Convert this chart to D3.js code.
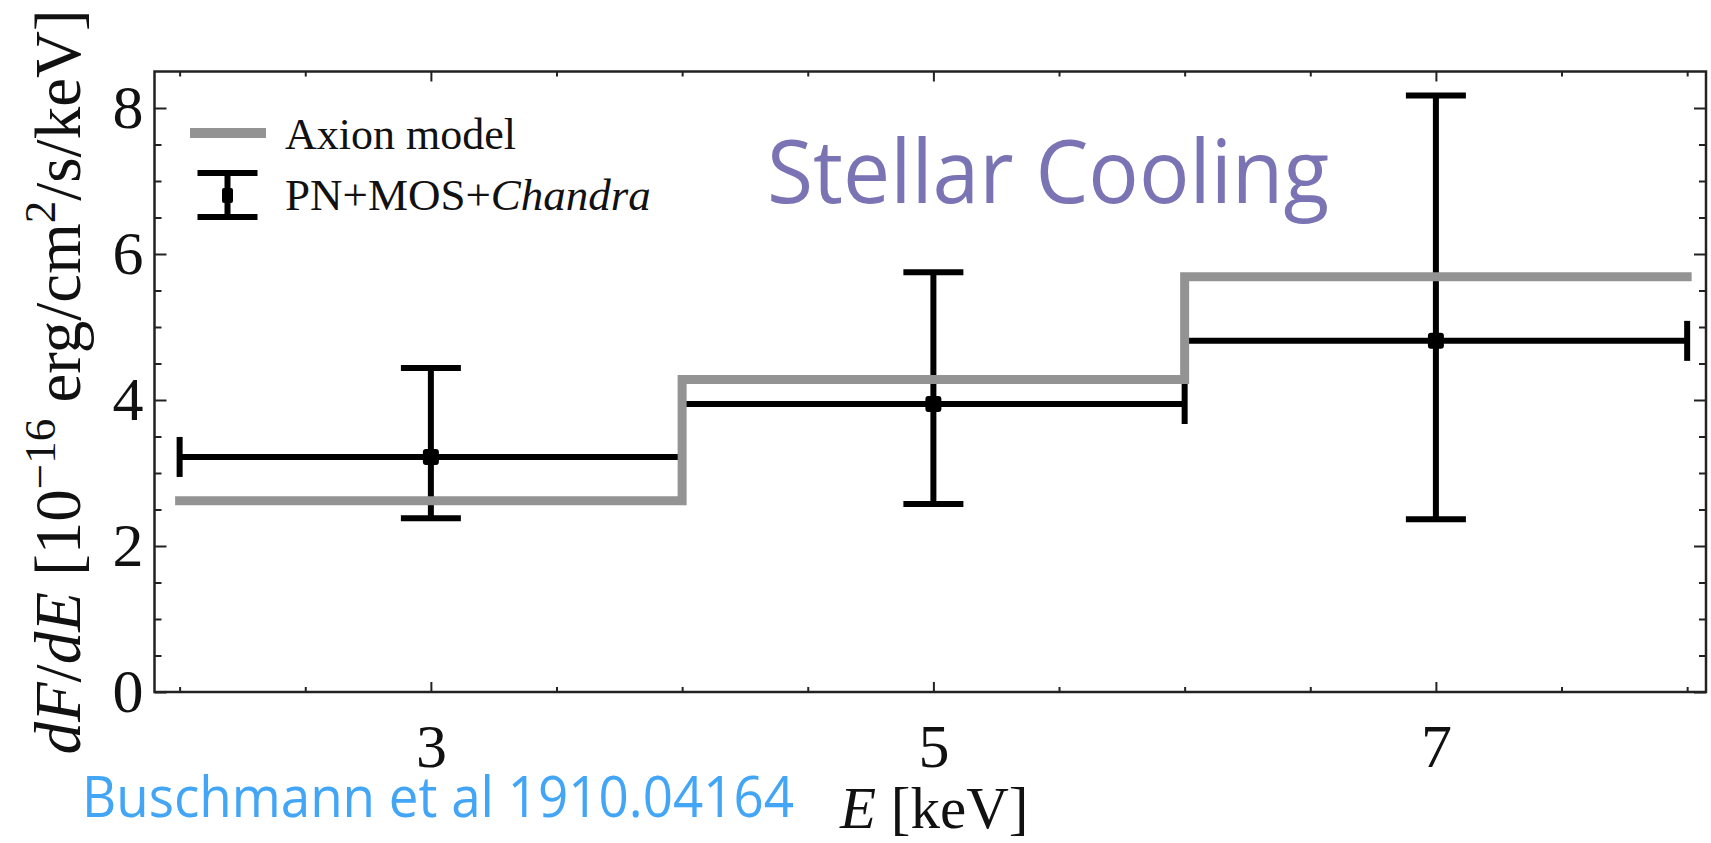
<!DOCTYPE html>
<html>
<head>
<meta charset="utf-8">
<script src="https://cdn.jsdelivr.net/npm/d3@7"></script>
<style>
  body { margin: 0; background: #fff; }
  svg { display: block; }
</style>
</head>
<body>
<svg id="chart" width="1711" height="843"></svg>
<script>
// Energy bins (keV) and measured flux with asymmetric errors
const binLow = [2, 4, 6];
const binHigh = [4, 6, 8];
const binCenter = [3, 5, 7];
const fluxValue = [3.22, 3.945, 4.81];
const fluxLower = [2.38, 2.575, 2.365];
const fluxUpper = [4.44, 5.75, 8.17];
// Axion model prediction, one level per bin
const axionModel = [2.62, 4.28, 5.69];
// Tick values
const xTickMajor = [3, 5, 7];
const xTickMinor = [2, 2.5, 3.5, 4, 4.5, 5.5, 6, 6.5, 7.5, 8];
const yTickMajor = [0, 2, 4, 6, 8];
const yTickMinor = [0.5, 1, 1.5, 2.5, 3, 3.5, 4.5, 5, 5.5, 6.5, 7, 7.5];
const legendModel = "Axion model";
const legendDataPrefix = "PN+MOS+";
const legendDataItalic = "Chandra";

const svg = d3.select("#chart");
const serif = "'Liberation Serif', 'DejaVu Serif', serif";
const sans = "'Open Sans', 'Noto Sans', sans-serif";

const x = d3.scaleLinear().domain([1.9, 8.075]).range([154.5, 1706]);
const y = d3.scaleLinear().domain([0, 8.5]).range([692, 71.5]);

const [x0, x1] = x.range();
const [y0, y1] = y.range();

// ---- axes: inward ticks on all four sides ----
function styleAxis(g) {
  g.select(".domain").remove();
  g.selectAll(".tick line").attr("stroke", "#222").attr("stroke-width", 2);
  g.selectAll(".tick text").attr("fill", "#111").attr("font-family", serif);
}

svg.append("g").attr("transform", `translate(0,${y0})`)
  .call(d3.axisBottom(x).tickValues(xTickMajor).tickSize(-10).tickPadding(31).tickFormat(d3.format("d")))
  .call(styleAxis)
  .selectAll(".tick text").attr("font-size", 62);
svg.append("g").attr("transform", `translate(0,${y0})`)
  .call(d3.axisBottom(x).tickValues(xTickMinor).tickSize(-5).tickFormat(""))
  .call(styleAxis);
svg.append("g").attr("transform", `translate(0,${y1})`)
  .call(d3.axisTop(x).tickValues(xTickMajor).tickSize(-10).tickFormat(""))
  .call(styleAxis);
svg.append("g").attr("transform", `translate(0,${y1})`)
  .call(d3.axisTop(x).tickValues(xTickMinor).tickSize(-5).tickFormat(""))
  .call(styleAxis);

svg.append("g").attr("transform", `translate(${x0},0)`)
  .call(d3.axisLeft(y).tickValues(yTickMajor).tickSize(-12).tickPadding(11).tickFormat(d3.format("d")))
  .call(styleAxis)
  .selectAll(".tick text").attr("font-size", 62);
svg.append("g").attr("transform", `translate(${x0},0)`)
  .call(d3.axisLeft(y).tickValues(yTickMinor).tickSize(-7).tickFormat(""))
  .call(styleAxis);
svg.append("g").attr("transform", `translate(${x1},0)`)
  .call(d3.axisRight(y).tickValues(yTickMajor).tickSize(-12).tickFormat(""))
  .call(styleAxis);
svg.append("g").attr("transform", `translate(${x1},0)`)
  .call(d3.axisRight(y).tickValues(yTickMinor).tickSize(-7).tickFormat(""))
  .call(styleAxis);

// ---- data error bars ----
const bars = svg.append("g").attr("stroke", "#000").attr("stroke-width", 6).attr("fill", "none");
binCenter.forEach((c, i) => {
  const cx = x(c), cy = y(fluxValue[i]);
  const xl = x(binLow[i]), xh = x(binHigh[i]);
  const yl = y(fluxLower[i]), yh = y(fluxUpper[i]);
  bars.append("line").attr("x1", xl).attr("x2", xh).attr("y1", cy).attr("y2", cy);
  bars.append("line").attr("x1", cx).attr("x2", cx).attr("y1", yl).attr("y2", yh);
  // caps
  bars.append("line").attr("x1", cx - 30).attr("x2", cx + 30).attr("y1", yl).attr("y2", yl);
  bars.append("line").attr("x1", cx - 30).attr("x2", cx + 30).attr("y1", yh).attr("y2", yh);
  bars.append("line").attr("x1", xl).attr("x2", xl).attr("y1", cy - 20).attr("y2", cy + 20);
  bars.append("line").attr("x1", xh).attr("x2", xh).attr("y1", cy - 20).attr("y2", cy + 20);
  bars.append("rect").attr("x", cx - 8).attr("y", cy - 8).attr("width", 16).attr("height", 16)
    .attr("rx", 3).attr("fill", "#000").attr("stroke", "none");
});

// ---- axion model step line ----
const stepPoints = binLow.map((lo, i) => [lo, axionModel[i]]);
stepPoints.push([binHigh[binHigh.length - 1], axionModel[axionModel.length - 1]]);
svg.append("path")
  .datum(stepPoints)
  .attr("d", d3.line().x(d => x(d[0])).y(d => y(d[1])).curve(d3.curveStepAfter))
  .attr("fill", "none")
  .attr("stroke", "#939393")
  .attr("stroke-width", 9)
  .attr("stroke-linecap", "square")
  .attr("stroke-linejoin", "miter");

// ---- frame ----
svg.append("rect")
  .attr("x", x0).attr("y", y1).attr("width", x1 - x0).attr("height", y0 - y1)
  .attr("fill", "none").attr("stroke", "#222").attr("stroke-width", 2.5);

// ---- legend ----
const lg = svg.append("g");
lg.append("line").attr("x1", 190).attr("x2", 266).attr("y1", 133).attr("y2", 133)
  .attr("stroke", "#939393").attr("stroke-width", 10);
lg.append("line").attr("x1", 227.5).attr("x2", 227.5).attr("y1", 173).attr("y2", 217)
  .attr("stroke", "#000").attr("stroke-width", 6);
lg.append("line").attr("x1", 197.5).attr("x2", 257.5).attr("y1", 173).attr("y2", 173)
  .attr("stroke", "#000").attr("stroke-width", 6);
lg.append("line").attr("x1", 197.5).attr("x2", 257.5).attr("y1", 217).attr("y2", 217)
  .attr("stroke", "#000").attr("stroke-width", 6);
lg.append("rect").attr("x", 222).attr("y", 188).attr("width", 11).attr("height", 15)
  .attr("fill", "#000").attr("rx", 2);
lg.append("text").attr("x", 285).attr("y", 149)
  .attr("font-family", serif).attr("font-size", 44).attr("fill", "#111")
  .text(legendModel);
const lt = lg.append("text").attr("x", 285).attr("y", 210)
  .attr("font-family", serif).attr("font-size", 45).attr("fill", "#111");
lt.append("tspan").text(legendDataPrefix);
lt.append("tspan").attr("font-style", "italic").text(legendDataItalic);

// ---- axis titles ----
const xt = svg.append("text").attr("x", 840).attr("y", 828)
  .attr("font-family", serif).attr("font-size", 59).attr("fill", "#111");
xt.append("tspan").attr("font-style", "italic").text("E");
xt.append("tspan").text(" [keV]");

const yt = svg.append("text")
  .attr("transform", "translate(80,382) rotate(-90)")
  .attr("text-anchor", "middle")
  .attr("font-family", serif).attr("font-size", 65).attr("fill", "#111");
yt.append("tspan").attr("font-style", "italic").text("dF");
yt.append("tspan").text("/");
yt.append("tspan").attr("font-style", "italic").text("dE");
yt.append("tspan").text(" [10");
yt.append("tspan").attr("font-size", 45).attr("dy", -25).text("\u221216");
yt.append("tspan").attr("dy", 25).text(" erg/cm");
yt.append("tspan").attr("font-size", 45).attr("dy", -25).text("2");
yt.append("tspan").attr("dy", 25).text("/s/keV]");

// ---- annotations ----
svg.append("text").attr("x", 767).attr("y", 203)
  .attr("font-family", sans).attr("font-size", 88).attr("fill", "#7A73B4")
  .attr("textLength", 562).attr("lengthAdjust", "spacingAndGlyphs")
  .text("Stellar Cooling");
svg.append("text").attr("x", 82).attr("y", 817)
  .attr("font-family", sans).attr("font-size", 56).attr("fill", "#42A5F5")
  .attr("textLength", 712).attr("lengthAdjust", "spacingAndGlyphs")
  .text("Buschmann et al 1910.04164");
</script>
</body>
</html>
